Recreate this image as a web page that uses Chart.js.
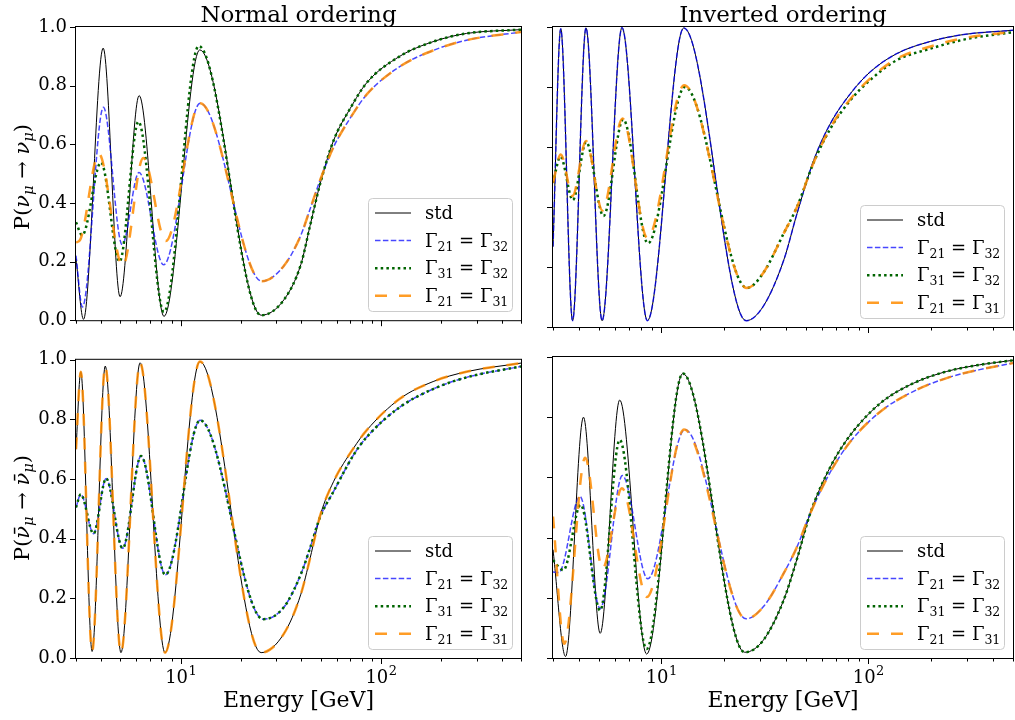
<!DOCTYPE html>
<html>
<head>
<meta charset="utf-8">
<title>Survival probability with decoherence</title>
<script src="https://cdn.jsdelivr.net/npm/chart.js"></script>
<style>
    body { margin: 0; background: #fff; }
    #fig {
        position: relative;
        width: 1015px;
        height: 720px;
        background: #fff;
        font-family: "DejaVu Serif", serif;
        color: #000;
    }
    #fig canvas { position: absolute; }
    .ylab {
        position: absolute;
        left: 22px;
        transform: translate(-50%, -50%) rotate(-90deg);
        font-size: 21px;
        line-height: 1;
        white-space: nowrap;
    }
    .ylab sub { font-size: 0.7em; vertical-align: -0.3em; line-height: 0; }
</style>
</head>
<body>
<div id="fig">
    <canvas id="c00" width="530" height="340" style="left:0;top:0"></canvas>
    <canvas id="c01" width="485" height="340" style="left:530px;top:0"></canvas>
    <canvas id="c10" width="530" height="380" style="left:0;top:340px"></canvas>
    <canvas id="c11" width="485" height="380" style="left:530px;top:340px"></canvas>
    <div class="ylab" style="top:177px">P(<i>ν</i><sub><i>μ</i></sub> → <i>ν</i><sub><i>μ</i></sub>)</div>
    <div class="ylab" style="top:508px">P(<i>ν&#772;</i><sub><i>μ</i></sub> → <i>ν&#772;</i><sub><i>μ</i></sub>)</div>
</div>

<script>
    // energies [GeV] and survival probabilities

    // normal ordering, neutrinos
    const noNuStdE = [3, 3.27, 4.1, 4.98, 6.2, 8.25, 12.45, 25.2, 32.7, 39.8, 44.3, 49.8, 57.9, 70.3, 84.9, 124, 182, 267, 500];
    const noNuStdP = [0.21, 0.003, 0.928, 0.08, 0.766, 0.013, 0.922, 0.017, 0.069, 0.19, 0.324, 0.468, 0.612, 0.723, 0.81, 0.90, 0.95, 0.978, 0.991];
    const noNuG2132E = [3, 3.23, 4.11, 5.1, 6.19, 8.22, 12.5, 25.4, 32.7, 39.8, 44.3, 49.8, 57.9, 70.3, 84.9, 124, 182, 267, 500];
    const noNuG2132P = [0.22, 0.045, 0.726, 0.258, 0.504, 0.189, 0.74, 0.133, 0.185, 0.29, 0.38, 0.48, 0.59, 0.69, 0.77, 0.865, 0.92, 0.955, 0.983];
    const noNuG3132E = [3, 3.22, 4.0, 4.95, 6.15, 8.24, 12.3, 25.2, 32.7, 39.8, 44.3, 49.8, 57.9, 70.3, 84.9, 124, 182, 267, 500];
    const noNuG3132P = [0.334, 0.29, 0.538, 0.2, 0.677, 0.028, 0.935, 0.017, 0.069, 0.19, 0.324, 0.468, 0.612, 0.723, 0.81, 0.90, 0.95, 0.978, 0.991];
    const noNuG2131E = [3, 3.15, 3.9, 5.13, 6.5, 8.42, 12.5, 25.4, 32.7, 39.8, 44.3, 49.8, 57.9, 70.3, 84.9, 124, 182, 267, 500];
    const noNuG2131P = [0.265, 0.275, 0.568, 0.184, 0.553, 0.27, 0.74, 0.133, 0.185, 0.29, 0.38, 0.48, 0.59, 0.69, 0.77, 0.865, 0.92, 0.955, 0.983];

    // inverted ordering, neutrinos (Γ21 = Γ32 sits on top of std)
    const ioNuStdE = [3, 3.27, 3.73, 4.33, 5.18, 6.46, 8.57, 12.85, 25.7, 31.1, 39.1, 45.3, 54.6, 65.7, 82, 102, 137, 200, 289, 500];
    const ioNuStdP = [0.268, 0.994, 0.021, 0.997, 0.021, 0.998, 0.021, 0.997, 0.021, 0.069, 0.224, 0.379, 0.557, 0.679, 0.778, 0.85, 0.911, 0.952, 0.975, 0.989];
    const ioNuG3132E = [3, 3.26, 3.74, 4.34, 5.26, 6.55, 8.62, 13.0, 25.9, 31.1, 39.1, 45.3, 54.6, 65.7, 82, 102, 137, 200, 289, 500];
    const ioNuG3132P = [0.48, 0.568, 0.423, 0.617, 0.37, 0.692, 0.279, 0.80, 0.13, 0.18, 0.313, 0.401, 0.55, 0.662, 0.756, 0.823, 0.889, 0.928, 0.958, 0.983];
    const ioNuG2131E = [3, 3.27, 3.73, 4.33, 5.2, 6.5, 8.58, 12.9, 25.9, 31.1, 39.1, 45.3, 54.6, 65.7, 82, 102, 137, 200, 289, 500];
    const ioNuG2131P = [0.48, 0.575, 0.437, 0.62, 0.388, 0.695, 0.296, 0.806, 0.13, 0.18, 0.313, 0.401, 0.55, 0.665, 0.76, 0.828, 0.894, 0.935, 0.963, 0.984];

    // normal ordering, antineutrinos (Γ21 = Γ31 on std, Γ31 = Γ32 on Γ21 = Γ32)
    const noBarStdE = [3, 3.17, 3.61, 4.2, 5.03, 6.27, 8.35, 12.47, 25.2, 32.7, 39.8, 44.3, 49.8, 57.9, 72.8, 84.9, 124, 182, 267, 500];
    const noBarStdP = [0.70, 0.96, 0.022, 0.979, 0.018, 0.99, 0.018, 0.994, 0.018, 0.081, 0.214, 0.336, 0.48, 0.591, 0.703, 0.764, 0.869, 0.927, 0.96, 0.989];
    const noBarG2132E = [3, 3.17, 3.67, 4.24, 5.13, 6.34, 8.38, 12.5, 25.8, 32.7, 39.8, 44.3, 49.8, 57.9, 72.8, 84.9, 124, 182, 267, 500];
    const noBarG2132P = [0.505, 0.549, 0.417, 0.602, 0.368, 0.677, 0.279, 0.797, 0.13, 0.17, 0.281, 0.37, 0.475, 0.558, 0.68, 0.741, 0.841, 0.902, 0.941, 0.978];

    // inverted ordering, antineutrinos
    const ioBarStdE = [3, 3.45, 4.21, 5.07, 6.3, 8.5, 12.7, 25.3, 31.1, 39, 45.3, 52.4, 65.7, 82, 114.6, 165.5, 239, 345, 500];
    const ioBarStdP = [0.36, 0.005, 0.80, 0.082, 0.857, 0.013, 0.945, 0.019, 0.059, 0.192, 0.33, 0.48, 0.636, 0.741, 0.847, 0.913, 0.952, 0.974, 0.989];
    const ioBarG2132E = [3, 3.2, 4.05, 5.07, 6.49, 8.61, 13.0, 25.7, 31.1, 39, 45.3, 52.4, 65.7, 82, 114.6, 165.5, 239, 345, 500];
    const ioBarG2132P = [0.286, 0.284, 0.537, 0.164, 0.606, 0.263, 0.759, 0.13, 0.17, 0.281, 0.37, 0.48, 0.619, 0.719, 0.819, 0.886, 0.93, 0.958, 0.98];
    const ioBarG3132E = [3, 3.37, 4.08, 5.07, 6.3, 8.49, 12.7, 25.3, 31.1, 39, 45.3, 52.4, 65.7, 82, 114.6, 165.5, 239, 345, 500];
    const ioBarG3132P = [0.325, 0.292, 0.509, 0.158, 0.725, 0.03, 0.945, 0.019, 0.059, 0.192, 0.33, 0.48, 0.636, 0.741, 0.847, 0.913, 0.952, 0.974, 0.989];
    const ioBarG2131E = [3, 3.4, 4.29, 5.2, 6.46, 8.52, 12.9, 25.7, 31.1, 39, 45.3, 52.4, 65.7, 82, 114.6, 165.5, 239, 345, 500];
    const ioBarG2131P = [0.47, 0.047, 0.665, 0.297, 0.564, 0.203, 0.759, 0.13, 0.17, 0.281, 0.37, 0.48, 0.619, 0.719, 0.819, 0.886, 0.93, 0.958, 0.98];

    const xMajor = [10, 100];
    const xMajorExp = ['1', '2'];
    const xMinor = [3, 4, 5, 6, 7, 8, 9, 20, 30, 40, 50, 60, 70, 80, 90, 200, 300, 400, 500];
    const yTicks = [0, 0.2, 0.4, 0.6, 0.8, 1.0];

    // line styles, in legend order
    const styles = [
        { label: 'std', color: '#000000', width: 1, dash: [] },
        { label: 'Γ21 = Γ32', color: 'rgba(0,0,255,0.72)', width: 1.5, dash: [5.5, 2.4] },
        { label: 'Γ31 = Γ32', color: '#006400', width: 2.5, dash: [2.5, 3.2] },
        { label: 'Γ21 = Γ31', color: 'rgba(255,140,0,0.85)', width: 2.5, dash: [12, 12] }
    ];

    const SERIF = '"DejaVu Serif", serif';

    // box frame plus matplotlib-like outward ticks and 10^n labels
    const frameTicks = {
        id: 'frameTicks',
        afterDatasetsDraw(chart, args, opts) {
            const { ctx, chartArea: a, scales } = chart;
            ctx.save();
            ctx.strokeStyle = '#000';
            ctx.lineWidth = 1;
            ctx.setLineDash([]);
            ctx.beginPath();
            xMajor.concat(xMinor).forEach(v => {
                const px = Math.round(scales.x.getPixelForValue(v)) + 0.5;
                const len = xMajor.includes(v) ? 6 : 3.5;
                ctx.moveTo(px, a.bottom);
                ctx.lineTo(px, a.bottom + len);
            });
            yTicks.forEach(v => {
                const py = Math.round(scales.y.getPixelForValue(v)) + 0.5;
                ctx.moveTo(a.left - 6, py);
                ctx.lineTo(a.left, py);
            });
            ctx.stroke();
            ctx.strokeRect(a.left - 0.5, a.top - 0.5, a.right - a.left + 1, a.bottom - a.top + 1);

            if (opts.xLabels) {
                ctx.fillStyle = '#000';
                ctx.textBaseline = 'alphabetic';
                ctx.textAlign = 'left';
                xMajor.forEach((v, i) => {
                    const px = scales.x.getPixelForValue(v);
                    ctx.font = '18px ' + SERIF;
                    const w1 = ctx.measureText('10').width;
                    ctx.font = '13px ' + SERIF;
                    const w2 = ctx.measureText(xMajorExp[i]).width;
                    const x0 = px - (w1 + w2) / 2;
                    ctx.font = '18px ' + SERIF;
                    ctx.fillText('10', x0, a.bottom + 25);
                    ctx.font = '13px ' + SERIF;
                    ctx.fillText(xMajorExp[i], x0 + w1 + 0.5, a.bottom + 17);
                });
            }
            ctx.restore();
        }
    };

    // legend box in the lower right corner, subscripts drawn by hand
    function drawLabel(ctx, text, x, y) {
        text.split(/(\d+)/).forEach((part, i) => {
            if (!part) return;
            const sub = i % 2 === 1;
            ctx.font = (sub ? '12.5px ' : '18px ') + SERIF;
            ctx.fillText(part, x, sub ? y + 4 : y);
            x += ctx.measureText(part).width;
        });
    }

    const boxLegend = {
        id: 'boxLegend',
        afterDraw(chart) {
            const { ctx, chartArea: a } = chart;
            const w = 144, h = 113;
            const x0 = Math.round(a.right - 9 - w), y0 = Math.round(a.bottom - 9 - h);
            ctx.save();
            ctx.beginPath();
            ctx.roundRect(x0 + 0.5, y0 + 0.5, w, h, 4);
            ctx.fillStyle = 'rgba(255,255,255,0.8)';
            ctx.fill();
            ctx.strokeStyle = '#cccccc';
            ctx.lineWidth = 1;
            ctx.stroke();
            chart.data.datasets.forEach((ds, i) => {
                const y = y0 + 15 + i * 27.6;
                ctx.beginPath();
                ctx.setLineDash(ds.borderDash);
                ctx.lineWidth = ds.borderWidth;
                ctx.strokeStyle = ds.borderColor;
                ctx.moveTo(x0 + 7, y);
                ctx.lineTo(x0 + 43, y);
                ctx.stroke();
                ctx.setLineDash([]);
                ctx.fillStyle = '#000';
                ctx.textBaseline = 'alphabetic';
                drawLabel(ctx, ds.label, x0 + 57, y + 6);
            });
            ctx.restore();
        }
    };

    const panelTitle = {
        id: 'panelTitle',
        afterDraw(chart, args, opts) {
            if (!opts.text) return;
            const { ctx, chartArea: a } = chart;
            ctx.save();
            ctx.font = '23px ' + SERIF;
            ctx.fillStyle = '#000';
            ctx.textAlign = 'center';
            ctx.textBaseline = 'alphabetic';
            ctx.fillText(opts.text, (a.left + a.right) / 2, 22);
            ctx.restore();
        }
    };

    function makeSeries(E, P, k) {
        const s = styles[k];
        return {
            label: s.label,
            data: E.map((e, i) => ({ x: e, y: P[i] })),
            borderColor: s.color,
            borderWidth: s.width,
            borderDash: s.dash,
            borderCapStyle: 'butt',
            pointRadius: 0,
            fill: false,
            cubicInterpolationMode: 'monotone',
            order: 3 - k
        };
    }

    function makePanel(id, cfg) {
        const datasets = cfg.series.map((s, k) => makeSeries(s[0], s[1], k));
        new Chart(document.getElementById(id), {
            type: 'line',
            data: { datasets: datasets },
            options: {
                responsive: false,
                animation: false,
                devicePixelRatio: 1,
                layout: { padding: cfg.padding },
                plugins: {
                    legend: { display: false },
                    tooltip: { enabled: false },
                    panelTitle: { text: cfg.title },
                    frameTicks: { xLabels: cfg.xLabels }
                },
                scales: {
                    x: {
                        type: 'logarithmic',
                        min: 3,
                        max: 500,
                        grid: { display: false, drawTicks: false },
                        border: { display: false },
                        afterBuildTicks: s => { s.ticks = xMajor.map(v => ({ value: v })); },
                        afterFit: s => { s.height = cfg.xAxisH; },
                        ticks: { display: false },
                        title: {
                            display: cfg.xLabels,
                            text: 'Energy [GeV]',
                            color: '#000',
                            font: { family: SERIF, size: 22 },
                            padding: { top: 0, bottom: 6 }
                        }
                    },
                    y: {
                        min: 0,
                        max: 1,
                        grid: { display: false, drawTicks: false },
                        border: { display: false },
                        afterFit: s => { s.width = cfg.yAxisW; },
                        ticks: {
                            display: cfg.yLabels,
                            stepSize: 0.2,
                            padding: 9,
                            color: '#000',
                            font: { family: SERIF, size: 18 },
                            callback: v => v.toFixed(1)
                        }
                    }
                }
            },
            plugins: [frameTicks, boxLegend, panelTitle]
        });
    }

    makePanel('c00', {
        title: 'Normal ordering', xLabels: false, yLabels: true, xAxisH: 13, yAxisW: 76,
        padding: { left: 0, right: 9, top: 27, bottom: 0 },
        series: [[noNuStdE, noNuStdP], [noNuG2132E, noNuG2132P], [noNuG3132E, noNuG3132P], [noNuG2131E, noNuG2131P]]
    });
    makePanel('c01', {
        title: 'Inverted ordering', xLabels: false, yLabels: false, xAxisH: 13, yAxisW: 23,
        padding: { left: 0, right: 2, top: 27, bottom: 0 },
        series: [[ioNuStdE, ioNuStdP], [ioNuStdE, ioNuStdP], [ioNuG3132E, ioNuG3132P], [ioNuG2131E, ioNuG2131P]]
    });
    makePanel('c10', {
        title: '', xLabels: true, yLabels: true, xAxisH: 62, yAxisW: 76,
        padding: { left: 0, right: 9, top: 17, bottom: 0 },
        series: [[noBarStdE, noBarStdP], [noBarG2132E, noBarG2132P], [noBarG2132E, noBarG2132P], [noBarStdE, noBarStdP]]
    });
    makePanel('c11', {
        title: '', xLabels: true, yLabels: false, xAxisH: 62, yAxisW: 23,
        padding: { left: 0, right: 2, top: 17, bottom: 0 },
        series: [[ioBarStdE, ioBarStdP], [ioBarG2132E, ioBarG2132P], [ioBarG3132E, ioBarG3132P], [ioBarG2131E, ioBarG2131P]]
    });
</script>
</body>
</html>
